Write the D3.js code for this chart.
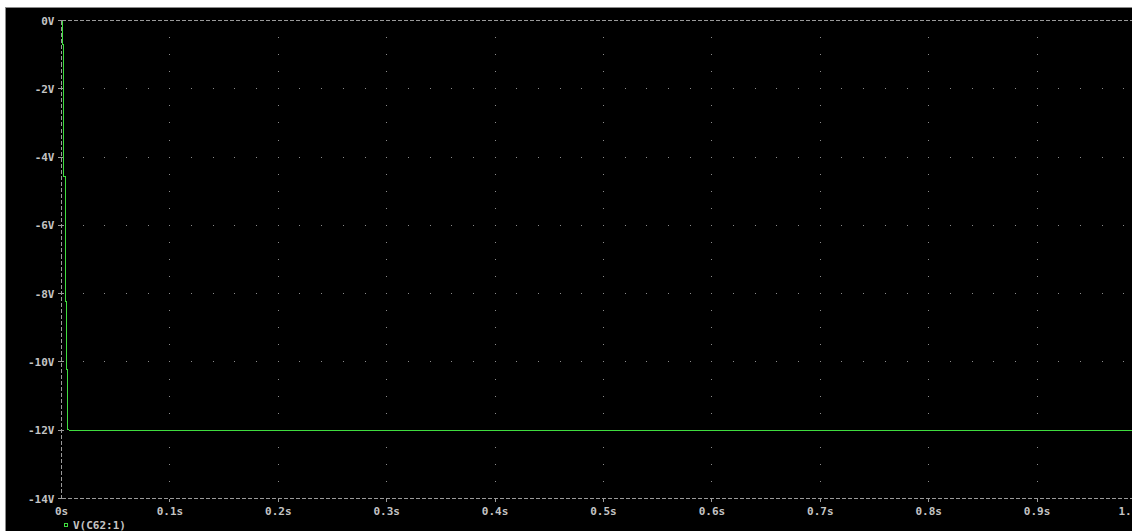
<!DOCTYPE html>
<html><head><meta charset="utf-8">
<script src="https://cdn.jsdelivr.net/npm/d3@7"></script>
<style>
html,body{margin:0;padding:0;background:#ffffff;overflow:hidden;}
svg{display:block;}
text{font-family:"DejaVu Sans Mono",monospace;font-size:11px;font-weight:bold;fill:#c4c4c4;}
</style></head>
<body>
<script>
// Data (transient voltage V(C62:1))
const timeS = [0.0012, 0.0012, 0.0021, 0.0021, 0.0034, 0.0034, 0.0040, 0.0040, 0.0046, 0.0046, 0.0053, 0.0053, 0.0058, 0.0058, 0.0075, 1.0];
const volts = [0, -0.70, -0.70, -4.57, -4.57, -6.21, -6.21, -8.23, -8.23, -10.22, -10.22, -11.39, -11.39, -11.98, -12.0, -12.0];
const xTicks = [0, 0.1, 0.2, 0.3, 0.4, 0.5, 0.6, 0.7, 0.8, 0.9, 1.0];
const xTickLabels = ["0s", "0.1s", "0.2s", "0.3s", "0.4s", "0.5s", "0.6s", "0.7s", "0.8s", "0.9s", "1.0s"];
const yTicks = [0, -2, -4, -6, -8, -10, -12, -14];
const yTickLabels = ["0V", "-2V", "-4V", "-6V", "-8V", "-10V", "-12V", "-14V"];
const legendLabel = "V(C62:1)";

const W = 1132, H = 531;
const svg = d3.select("body").append("svg").attr("width", W).attr("height", H);

// window frame
svg.append("rect").attr("x", 5).attr("y", 7).attr("width", W - 5).attr("height", H - 7).attr("fill", "#8a8a8a");
svg.append("rect").attr("x", 6).attr("y", 8).attr("width", W - 6).attr("height", H - 8).attr("fill", "#000000");

const x = d3.scaleLinear().domain([0, 1]).range([61.5, 1145.5]);
const y = d3.scaleLinear().domain([0, -14]).range([20.5, 498.5]);

const g = svg.append("g").attr("shape-rendering", "crispEdges");

// grid dots: rows at each 2V, dots every 0.02s; columns at each 0.1s, dots every 0.5V
const dotColor = "#8c8c8c";
const rowDots = [];
yTicks.slice(1, -1).forEach(v => d3.range(1, 51).forEach(i => rowDots.push([i * 0.02, v])));
const colDots = [];
xTicks.slice(1).forEach(t => d3.range(1, 28).forEach(i => colDots.push([t, -i * 0.5])));
g.selectAll(".rd").data(rowDots).join("rect")
  .attr("x", d => Math.round(x(d[0]) - 0.5)).attr("y", d => Math.round(y(d[1]) - 0.5))
  .attr("width", 1).attr("height", 1).attr("fill", dotColor);
g.selectAll(".cd").data(colDots).join("rect")
  .attr("x", d => Math.round(x(d[0]) - 0.5)).attr("y", d => Math.round(y(d[1]) - 0.5))
  .attr("width", 1).attr("height", 1).attr("fill", dotColor);

// dashed frame lines
const axisColor = "#9a9a9a";
g.append("line").attr("x1", x(0)).attr("x2", W).attr("y1", y(0)).attr("y2", y(0))
  .attr("stroke", axisColor).attr("stroke-dasharray", "4,2");
g.append("line").attr("x1", x(0)).attr("x2", W).attr("y1", y(-14)).attr("y2", y(-14))
  .attr("stroke", axisColor).attr("stroke-dasharray", "4,2");
g.append("line").attr("x1", x(0)).attr("x2", x(0)).attr("y1", y(0)).attr("y2", y(-14))
  .attr("stroke", axisColor).attr("stroke-dasharray", "4,2");

// y ticks and labels
g.selectAll(".yt").data(yTicks).join("line")
  .attr("x1", x(0) - 4).attr("x2", x(0) + 2).attr("y1", d => y(d)).attr("y2", d => y(d))
  .attr("stroke", axisColor);
svg.selectAll(".yl").data(yTicks).join("text")
  .attr("x", x(0) - 7).attr("y", d => y(d) + 4).attr("text-anchor", "end")
  .text((d, i) => yTickLabels[i]);

// x ticks and labels
g.selectAll(".xt").data(xTicks.slice(1)).join("line")
  .attr("x1", d => x(d)).attr("x2", d => x(d)).attr("y1", y(-14)).attr("y2", y(-14) + 3)
  .attr("stroke", axisColor);
svg.selectAll(".xl").data(xTicks).join("text")
  .attr("x", d => d === 1 ? x(d) - 27 : x(d)).attr("y", y(-14) + 16)
  .attr("text-anchor", d => d === 1 ? "start" : "middle")
  .text((d, i) => xTickLabels[i]);

// trace
const pts = timeS.map((t, i) => [t, volts[i]]);
g.append("path").datum(pts)
  .attr("d", d3.line().x(d => x(d[0])).y(d => y(d[1])))
  .attr("fill", "none").attr("stroke", "#3fdc3f").attr("stroke-width", 1);

// legend
svg.append("rect").attr("x", 64.5).attr("y", 523.5).attr("width", 3).attr("height", 3)
  .attr("fill", "none").attr("stroke", "#3fdc3f").attr("stroke-width", 1);
svg.append("text").attr("x", 73).attr("y", 529).text(legendLabel);
</script>
</body></html>
